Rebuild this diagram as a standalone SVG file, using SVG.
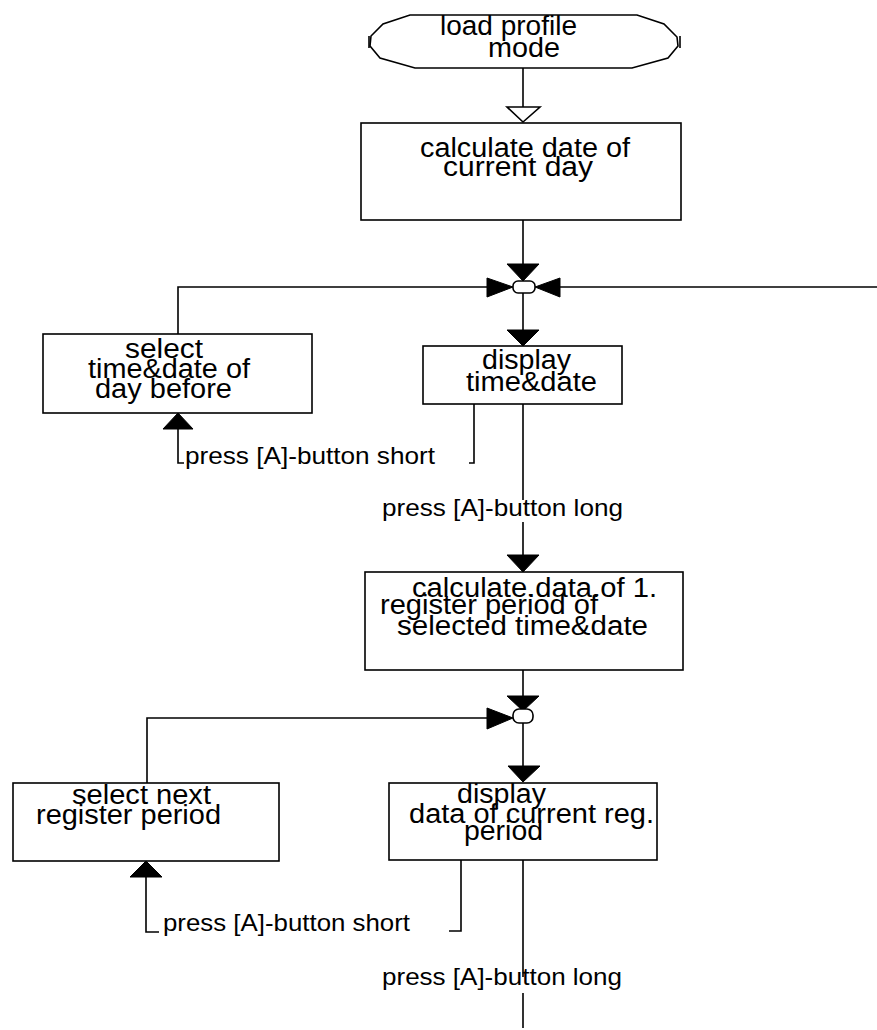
<svg xmlns="http://www.w3.org/2000/svg" width="877" height="1030" viewBox="0 0 877 1030">
<style>
.n{font-family:"Liberation Sans",Arial,sans-serif;font-size:27px;fill:#000}
.l{font-family:"Liberation Sans",Arial,sans-serif;font-size:24px;fill:#000}
.box{fill:#fff;stroke:#000;stroke-width:1.6}
.ln{fill:none;stroke:#000;stroke-width:1.6}
.ah{fill:#000;stroke:#000;stroke-width:1}
.oh{fill:#fff;stroke:#000;stroke-width:1.6}
</style>
<rect width="877" height="1030" fill="#fff"/>
<g id="connectors">
<path class="ln" d="M523,68V122"/>
<polygon class="oh" points="507,107 540,107 523,122"/>
<path class="ln" d="M523,220V266"/>
<polygon class="ah" points="507,264 539,264 523,281"/>
<path class="ln" d="M178,334V287H489"/>
<polygon class="ah" points="487,278 487,297 513,287"/>
<path class="ln" d="M558,287H877"/>
<polygon class="ah" points="560,278 560,297 535,287"/>
<path class="ln" d="M523,293V332"/>
<polygon class="ah" points="507,330 539,330 523,346"/>
<polygon class="ah" points="163,429 193,429 178,413"/>
<path class="ln" d="M178,429V463H184"/>
<path class="ln" d="M474,404V463H469"/>
<path class="ln" d="M523,404V500M523,522V557"/>
<polygon class="ah" points="507,555 539,555 523,572"/>
<path class="ln" d="M523,670V698"/>
<polygon class="ah" points="507,696 539,696 523,711"/>
<path class="ln" d="M147,783V718H489"/>
<polygon class="ah" points="487,708 487,729 513,718"/>
<path class="ln" d="M523,723V768"/>
<polygon class="ah" points="508,766 540,766 523,782"/>
<polygon class="ah" points="130,877 162,877 146,861"/>
<path class="ln" d="M146,877V932H159"/>
<path class="ln" d="M461,860V931H449"/>
<path class="ln" d="M523,860V977M523,993V1028"/>
</g>
<g id="junction1"><rect x="513" y="281" width="22" height="12" rx="5" class="oh"/></g>
<g id="junction2"><rect x="513" y="709" width="20" height="14" rx="6" class="oh"/></g>
<g id="start">
<path class="box" d="M410,15H637L664,24L677,37L678,46L668,58L632,68H415L380,58L370,46L371,36L383,24Z"/>
<path class="ln" d="M369,36V48M680,36V48"/>
<text class="n" x="440" y="35" textLength="137" lengthAdjust="spacingAndGlyphs">load profile</text>
<text class="n" x="488" y="57" textLength="72" lengthAdjust="spacingAndGlyphs">mode</text>
</g>
<g id="calcDate">
<rect class="box" x="361" y="123" width="320" height="97"/>
<text class="n" x="420" y="157" textLength="210" lengthAdjust="spacingAndGlyphs">calculate date of</text>
<text class="n" x="443" y="176" textLength="150" lengthAdjust="spacingAndGlyphs">current day</text>
</g>
<g id="selectDay">
<rect class="box" x="43" y="334" width="269" height="79"/>
<text class="n" x="125" y="358" textLength="78" lengthAdjust="spacingAndGlyphs">select</text>
<text class="n" x="88" y="378" textLength="162" lengthAdjust="spacingAndGlyphs">time&amp;date of</text>
<text class="n" x="95" y="398" textLength="137" lengthAdjust="spacingAndGlyphs">day before</text>
</g>
<g id="displayTime">
<rect class="box" x="423" y="346" width="199" height="58"/>
<text class="n" x="482" y="369" textLength="89" lengthAdjust="spacingAndGlyphs">display</text>
<text class="n" x="466" y="391" textLength="131" lengthAdjust="spacingAndGlyphs">time&amp;date</text>
</g>
<g id="labels1">
<text class="l" x="185" y="464" textLength="250" lengthAdjust="spacingAndGlyphs">press [A]-button short</text>
<text class="l" x="382" y="516" textLength="241" lengthAdjust="spacingAndGlyphs">press [A]-button long</text>
</g>
<g id="calcData">
<rect class="box" x="365" y="572" width="318" height="98"/>
<text class="n" x="412" y="597" textLength="245" lengthAdjust="spacingAndGlyphs">calculate.data.of 1.</text>
<text class="n" x="380" y="614" textLength="218" lengthAdjust="spacingAndGlyphs">register period of</text>
<text class="n" x="397" y="635" textLength="251" lengthAdjust="spacingAndGlyphs">selected time&amp;date</text>
</g>
<g id="selectNext">
<rect class="box" x="13" y="783" width="266" height="78"/>
<text class="n" x="72" y="804" textLength="139" lengthAdjust="spacingAndGlyphs">select next</text>
<text class="n" x="36" y="824" textLength="185" lengthAdjust="spacingAndGlyphs">register period</text>
</g>
<g id="displayData">
<rect class="box" x="389" y="783" width="268" height="77"/>
<text class="n" x="457" y="803" textLength="89" lengthAdjust="spacingAndGlyphs">display</text>
<text class="n" x="409" y="823" textLength="245" lengthAdjust="spacingAndGlyphs">data of current reg.</text>
<text class="n" x="464" y="840" textLength="79" lengthAdjust="spacingAndGlyphs">period</text>
</g>
<g id="labels2">
<text class="l" x="163" y="931" textLength="247" lengthAdjust="spacingAndGlyphs">press [A]-button short</text>
<text class="l" x="382" y="985" textLength="240" lengthAdjust="spacingAndGlyphs">press [A]-button long</text>
</g>
</svg>
